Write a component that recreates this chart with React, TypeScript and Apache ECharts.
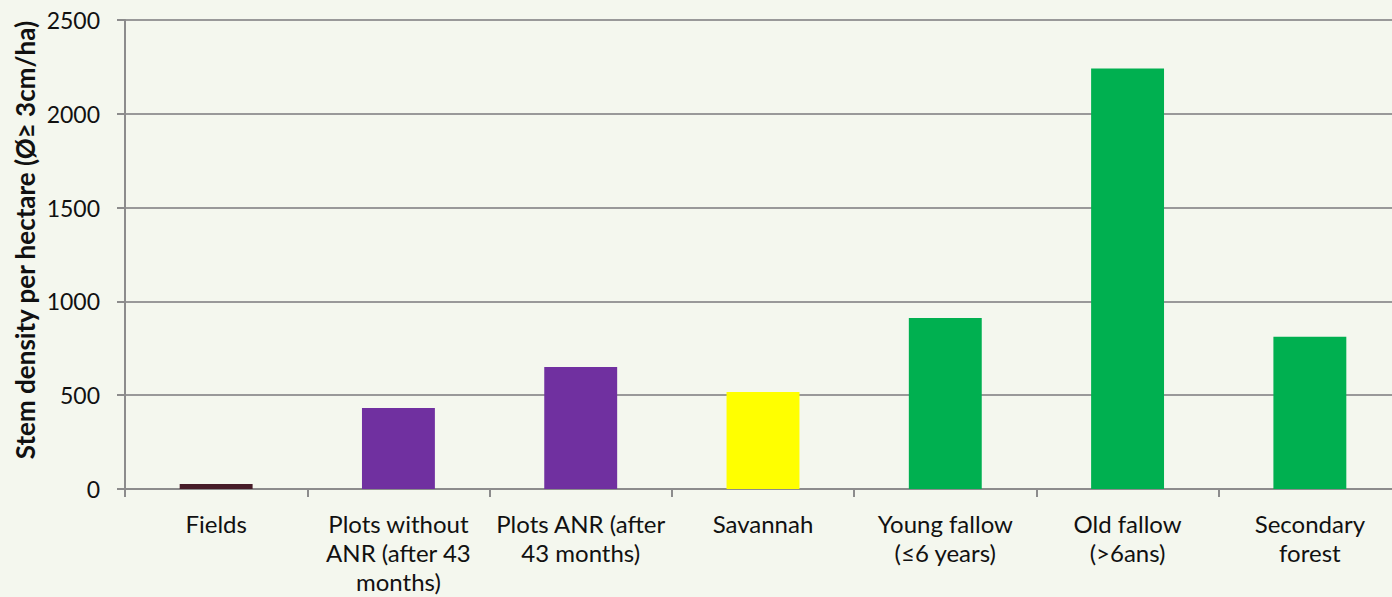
import React, { useEffect, useRef } from "react";
import * as echarts from "echarts";

// Land-use classes and their stem densities (stems per hectare, Ø ≥ 3 cm)
const categories = [
  "Fields",
  "Plots without\nANR (after 43\nmonths)",
  "Plots ANR (after\n43 months)",
  "Savannah",
  "Young fallow\n(≤6 years)",
  "Old fallow\n(>6ans)",
  "Secondary\nforest",
];
const stemDensity = [27, 432, 650, 517, 911, 2242, 811];
const barColors = ["#461C28", "#7030A0", "#7030A0", "#FFFF00", "#00B050", "#00B050", "#00B050"];

const yTicks = { min: 0, max: 2500, interval: 500 };
const yTitle = "Stem density per hectare (Ø≥ 3cm/ha)";

const FONT = "Lato, 'Open Sans', sans-serif";

export default function App() {
  const ref = useRef<HTMLDivElement>(null);

  useEffect(() => {
    document.body.style.margin = "0";
    document.body.style.overflow = "hidden";
    const chart = echarts.init(ref.current!, null, { renderer: "svg" });
    chart.setOption({
      animation: false,
      backgroundColor: "#F4F7EE",
      grid: { left: 125, right: -9, top: 20, bottom: 108, containLabel: false },
      xAxis: {
        type: "category",
        data: categories,
        axisLine: { show: true, lineStyle: { color: "#8C8C8C", width: 2 } },
        axisTick: { show: true, length: 8, alignWithLabel: false, lineStyle: { color: "#8C8C8C", width: 2 } },
        axisLabel: {
          interval: 0,
          margin: 20,
          color: "#111",
          fontFamily: FONT,
          fontSize: 24,
          lineHeight: 29,
        },
      },
      yAxis: {
        type: "value",
        min: yTicks.min,
        max: yTicks.max,
        interval: yTicks.interval,
        axisLine: { show: true, lineStyle: { color: "#8C8C8C", width: 2 } },
        axisTick: { show: true, length: 8, lineStyle: { color: "#8C8C8C", width: 2 } },
        splitLine: { show: true, lineStyle: { color: "#999999", width: 2 } },
        axisLabel: {
          margin: 25,
          color: "#111",
          fontFamily: FONT,
          fontSize: 23,
          formatter: (v: number) => String(v),
        },
      },
      graphic: [
        {
          type: "text",
          x: 25,
          y: 240,
          rotation: Math.PI / 2,
          style: {
            text: yTitle,
            fill: "#111",
            font: `bold 26px ${FONT}`,
            textAlign: "center",
            textVerticalAlign: "middle",
          },
        },
      ],
      series: [
        {
          type: "bar",
          data: stemDensity.map((v, i) => ({ value: v, itemStyle: { color: barColors[i] } })),
          barWidth: "40%",
        },
      ],
    });
    return () => chart.dispose();
  }, []);

  return <div ref={ref} style={{ width: 1401, height: 597 }} />;
}
